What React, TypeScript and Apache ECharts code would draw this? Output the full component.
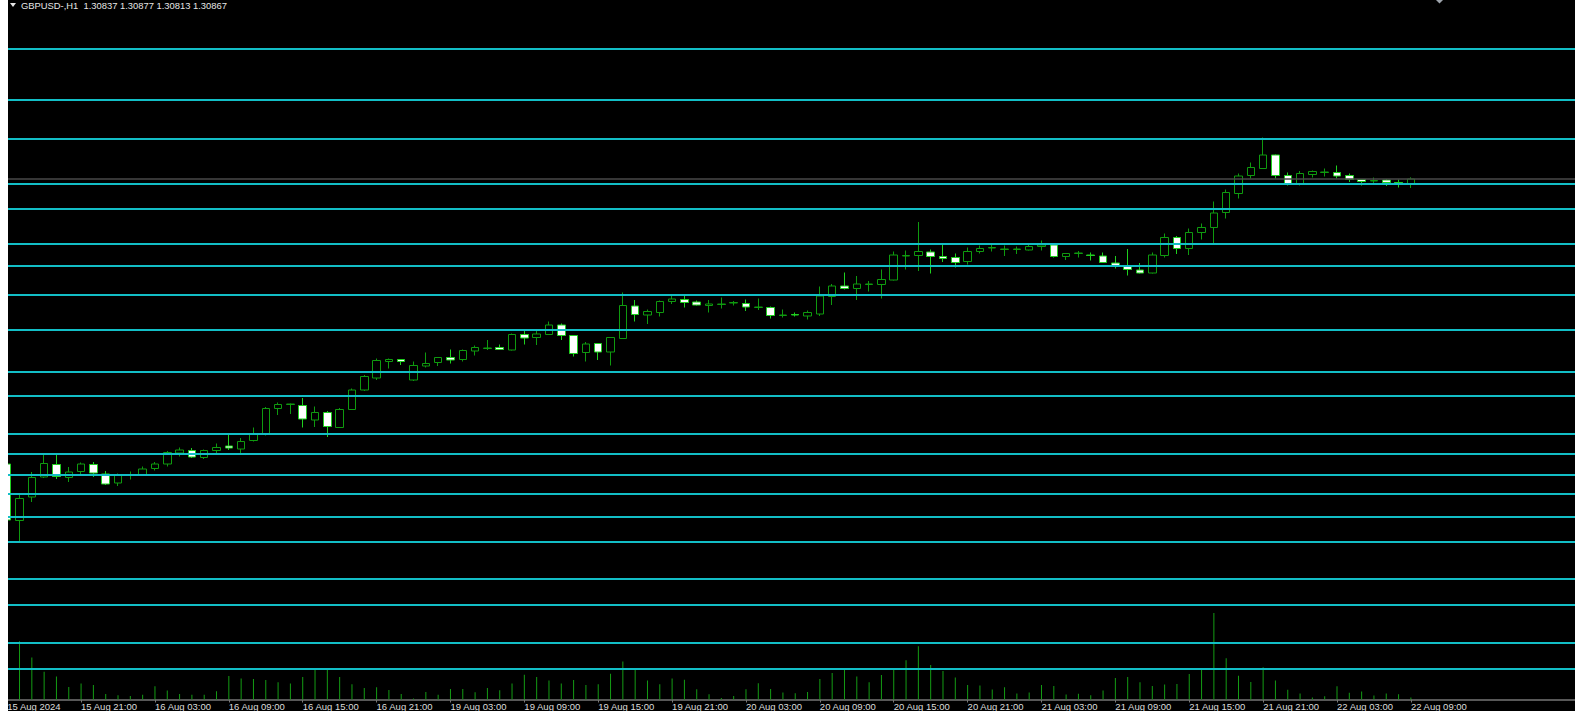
import React, { useEffect, useRef } from "react";
import * as echarts from "echarts";

// ---- data (GBPUSD H1, 15 Aug 15:00 .. 22 Aug 09:00) ----
const titleText = "GBPUSD-,H1  1.30837 1.30877 1.30813 1.30867";

const tickLabels = [
  "15 Aug 2024", "15 Aug 21:00", "16 Aug 03:00", "16 Aug 09:00", "16 Aug 15:00",
  "16 Aug 21:00", "19 Aug 03:00", "19 Aug 09:00", "19 Aug 15:00", "19 Aug 21:00",
  "20 Aug 03:00", "20 Aug 09:00", "20 Aug 15:00", "20 Aug 21:00", "21 Aug 03:00",
  "21 Aug 09:00", "21 Aug 15:00", "21 Aug 21:00", "22 Aug 03:00", "22 Aug 09:00",
];

const opens = [
  1.29157, 1.28818, 1.28959, 1.29079, 1.29154, 1.29076, 1.29112, 1.29154, 1.29097, 1.29043,
  1.29091, 1.29091, 1.29130, 1.29157, 1.29223, 1.29238, 1.29196, 1.29238, 1.29265, 1.29247,
  1.29298, 1.29337, 1.29490, 1.29514, 1.29508, 1.29421, 1.29466, 1.29376, 1.29484, 1.29601,
  1.29673, 1.29772, 1.29784, 1.29661, 1.29745, 1.29766, 1.29796, 1.29784, 1.29835, 1.29850,
  1.29856, 1.29841, 1.29934, 1.29916, 1.29934, 1.29991, 1.29928, 1.29826, 1.29880, 1.29829,
  1.29910, 1.30105, 1.30051, 1.30066, 1.30132, 1.30144, 1.30129, 1.30108, 1.30114, 1.30123,
  1.30120, 1.30096, 1.30096, 1.30048, 1.30054, 1.30045, 1.30057, 1.30162, 1.30225, 1.30210,
  1.30234, 1.30234, 1.30261, 1.30405, 1.30408, 1.30429, 1.30402, 1.30396, 1.30372, 1.30432,
  1.30453, 1.30444, 1.30444, 1.30441, 1.30462, 1.30471, 1.30402, 1.30420, 1.30411, 1.30405,
  1.30363, 1.30342, 1.30321, 1.30303, 1.30408, 1.30516, 1.30450, 1.30546, 1.30576, 1.30666,
  1.30780, 1.30888, 1.30930, 1.31011, 1.30888, 1.30840, 1.30894, 1.30906, 1.30906, 1.30888,
  1.30864, 1.30855, 1.30861, 1.30846, 1.30837,
];

const closes = [
  1.28821, 1.28950, 1.29076, 1.29160, 1.29082, 1.29109, 1.29157, 1.29103, 1.29037, 1.29091,
  1.29094, 1.29127, 1.29157, 1.29226, 1.29241, 1.29199, 1.29238, 1.29256, 1.29253, 1.29292,
  1.29337, 1.29490, 1.29514, 1.29517, 1.29427, 1.29466, 1.29382, 1.29484, 1.29601, 1.29682,
  1.29778, 1.29784, 1.29772, 1.29748, 1.29760, 1.29796, 1.29781, 1.29838, 1.29856, 1.29853,
  1.29844, 1.29934, 1.29913, 1.29937, 1.29991, 1.29928, 1.29820, 1.29877, 1.29829, 1.29916,
  1.30108, 1.30054, 1.30072, 1.30132, 1.30147, 1.30126, 1.30111, 1.30117, 1.30117, 1.30126,
  1.30099, 1.30099, 1.30048, 1.30051, 1.30051, 1.30066, 1.30165, 1.30225, 1.30210, 1.30237,
  1.30237, 1.30264, 1.30411, 1.30408, 1.30432, 1.30402, 1.30390, 1.30366, 1.30432, 1.30450,
  1.30456, 1.30447, 1.30447, 1.30462, 1.30471, 1.30402, 1.30420, 1.30423, 1.30408, 1.30366,
  1.30348, 1.30324, 1.30303, 1.30411, 1.30516, 1.30450, 1.30546, 1.30576, 1.30663, 1.30786,
  1.30885, 1.30936, 1.31011, 1.30888, 1.30840, 1.30900, 1.30912, 1.30909, 1.30885, 1.30864,
  1.30852, 1.30858, 1.30846, 1.30843, 1.30867,
];

const lows = [
  1.28815, 1.28683, 1.28929, 1.29073, 1.29067, 1.29049, 1.29091, 1.29079, 1.29031, 1.29025,
  1.29064, 1.29088, 1.29118, 1.29142, 1.29202, 1.29193, 1.29187, 1.29223, 1.29241, 1.29223,
  1.29292, 1.29328, 1.29451, 1.29457, 1.29376, 1.29379, 1.29319, 1.29373, 1.29481, 1.29595,
  1.29661, 1.29730, 1.29751, 1.29655, 1.29736, 1.29745, 1.29760, 1.29772, 1.29808, 1.29841,
  1.29841, 1.29838, 1.29874, 1.29871, 1.29931, 1.29901, 1.29802, 1.29772, 1.29781, 1.29748,
  1.29907, 1.30012, 1.29997, 1.30042, 1.30117, 1.30096, 1.30108, 1.30066, 1.30090, 1.30108,
  1.30075, 1.30081, 1.30030, 1.30036, 1.30042, 1.30024, 1.30045, 1.30111, 1.30204, 1.30141,
  1.30192, 1.30150, 1.30258, 1.30324, 1.30315, 1.30300, 1.30369, 1.30336, 1.30354, 1.30420,
  1.30432, 1.30405, 1.30417, 1.30438, 1.30438, 1.30396, 1.30381, 1.30396, 1.30378, 1.30363,
  1.30330, 1.30288, 1.30300, 1.30300, 1.30396, 1.30417, 1.30411, 1.30504, 1.30477, 1.30630,
  1.30750, 1.30870, 1.30927, 1.30870, 1.30828, 1.30828, 1.30876, 1.30882, 1.30870, 1.30849,
  1.30828, 1.30840, 1.30825, 1.30816, 1.30813,
];

const highs = [
  1.29163, 1.28971, 1.29109, 1.29223, 1.29223, 1.29139, 1.29166, 1.29169, 1.29115, 1.29100,
  1.29112, 1.29142, 1.29169, 1.29235, 1.29256, 1.29253, 1.29244, 1.29280, 1.29340, 1.29313,
  1.29376, 1.29499, 1.29526, 1.29520, 1.29553, 1.29502, 1.29475, 1.29493, 1.29610, 1.29691,
  1.29790, 1.29790, 1.29787, 1.29772, 1.29826, 1.29799, 1.29844, 1.29844, 1.29868, 1.29901,
  1.29874, 1.29940, 1.29967, 1.29958, 1.30012, 1.30000, 1.29931, 1.29889, 1.29883, 1.29919,
  1.30186, 1.30141, 1.30084, 1.30138, 1.30174, 1.30171, 1.30138, 1.30141, 1.30156, 1.30135,
  1.30144, 1.30150, 1.30102, 1.30084, 1.30066, 1.30078, 1.30222, 1.30237, 1.30306, 1.30285,
  1.30255, 1.30324, 1.30432, 1.30438, 1.30609, 1.30444, 1.30474, 1.30420, 1.30456, 1.30468,
  1.30474, 1.30468, 1.30462, 1.30474, 1.30498, 1.30474, 1.30423, 1.30435, 1.30426, 1.30426,
  1.30405, 1.30447, 1.30363, 1.30426, 1.30540, 1.30525, 1.30570, 1.30600, 1.30732, 1.30804,
  1.30900, 1.30966, 1.31116, 1.31014, 1.30906, 1.30915, 1.30918, 1.30930, 1.30948, 1.30900,
  1.30867, 1.30876, 1.30867, 1.30864, 1.30877,
];

const volumes = [
  2100, 2332, 1680, 1112, 924, 504, 640, 584, 220, 168,
  140, 192, 532, 356, 220, 192, 192, 328, 936, 844,
  816, 776, 692, 640, 896, 1180, 1236, 896, 612, 464,
  492, 384, 220, 44, 300, 192, 424, 424, 288, 464,
  368, 640, 992, 896, 760, 640, 776, 584, 612, 1032,
  1520, 1260, 760, 612, 844, 788, 408, 208, 60, 140,
  408, 652, 424, 276, 248, 300, 816, 1060, 1236, 924,
  692, 980, 1180, 1572, 2128, 1384, 1140, 884, 584, 560,
  396, 492, 236, 276, 584, 540, 200, 228, 172, 364,
  856, 896, 692, 540, 596, 624, 1020, 1252, 3460, 1648,
  952, 704, 1292, 760, 392, 240, 76, 132, 528, 268,
  324, 160, 240, 212, 76,
];

// horizontal price levels (cyan lines) and the current bid line
const levelLines = [
  1.31647, 1.31341, 1.31107, 1.30837, 1.30687, 1.30477, 1.30345, 1.30171, 1.29961, 1.29709,
  1.29565, 1.29337, 1.29217, 1.29091, 1.28977, 1.28839, 1.28689, 1.28467, 1.28311, 1.28083,
  1.27927,
];
const bidPrice = 1.30867;

// layout constants
const BAR_STEP = 12.313;
const EMPTY_SLOTS = 14; // MT4 chart shift (empty space on the right)
const CHART_W = 1567;
const CHART_H = 711;
const FONT = '"Liberation Sans", Arial, sans-serif';

export default function App() {
  const ref = useRef<HTMLDivElement>(null);

  useEffect(() => {
    if (!ref.current) return;
    const chart = echarts.init(ref.current, null, { renderer: "svg" });

    const nBars = opens.length;
    const nSlots = nBars + EMPTY_SLOTS;
    const categories = Array.from({ length: nSlots }, (_, i) => String(i));
    const candleData = opens.map((o, i) => [o, closes[i], lows[i], highs[i]]);

    const gridLeft = -0.8 - BAR_STEP / 2;
    const gridWidth = nSlots * BAR_STEP;
    const gridRight = CHART_W - (gridLeft + gridWidth);
    const gridBottom = 11.5;

    const showTick = (idx: number) => idx % 6 === 0 && idx / 6 < tickLabels.length;

    const baseX = {
      type: "category" as const,
      data: categories,
      boundaryGap: true,
      splitLine: { show: false },
    };

    chart.setOption({
      animation: false,
      backgroundColor: "#000000",
      grid: [
        {
          left: gridLeft,
          right: gridRight,
          top: 0,
          bottom: gridBottom,
          containLabel: false,
          outerBoundsMode: "none",
        },
        {
          left: gridLeft,
          right: gridRight,
          top: CHART_H - gridBottom - 100,
          bottom: gridBottom,
          containLabel: false,
          outerBoundsMode: "none",
        },
      ],
      xAxis: [
        {
          ...baseX,
          gridIndex: 0,
          axisLine: { show: true, lineStyle: { color: "#767676", width: 1.5 } },
          axisTick: {
            show: true,
            alignWithLabel: true,
            interval: (idx: number) => showTick(idx),
            length: 3,
            lineStyle: { color: "#767676", width: 1 },
          },
          axisLabel: {
            show: true,
            interval: (idx: number) => showTick(idx),
            align: "left",
            margin: 1.5,
            color: "#dcdcdc",
            fontSize: 9.5,
            lineHeight: 10,
            fontFamily: FONT,
            formatter: (_v: string, idx: number) => (showTick(idx) ? tickLabels[idx / 6] : ""),
          },
        },
        {
          ...baseX,
          gridIndex: 1,
          show: false,
        },
      ],
      yAxis: [
        {
          type: "value",
          gridIndex: 0,
          min: 1.27744,
          max: 1.31941,
          show: false,
          splitLine: { show: false },
        },
        {
          type: "value",
          gridIndex: 1,
          min: 0,
          max: 4000,
          show: false,
          splitLine: { show: false },
        },
      ],
      series: [
        {
          type: "bar",
          name: "Volume",
          xAxisIndex: 1,
          yAxisIndex: 1,
          data: volumes,
          barWidth: 1,
          z: 1,
          silent: true,
          itemStyle: { color: "#149c14" },
        },
        {
          type: "candlestick",
          name: "GBPUSD",
          xAxisIndex: 0,
          yAxisIndex: 0,
          data: candleData,
          barWidth: 8,
          z: 2,
          silent: true,
          itemStyle: {
            color: "#000000",
            color0: "#ffffff",
            borderColor: "#0f9a0f",
            borderColor0: "#1fd01f",
            borderWidth: 1,
          },
          markLine: {
            silent: true,
            precision: 5,
            symbol: ["none", "none"],
            label: { show: false },
            emphasis: { disabled: true },
            lineStyle: { color: "#12bec6", width: 2, type: "solid" },
            data: [
              { yAxis: bidPrice, lineStyle: { color: "#484848", width: 1.5, type: "solid" } },
              ...levelLines.map((v) => ({ yAxis: v })),
            ],
          },
        },
      ],
      graphic: [
        {
          type: "polygon",
          shape: { points: [[2, 3], [8, 3], [5, 7]] },
          style: { fill: "#e6e6e6" },
          silent: true,
        },
        {
          type: "text",
          x: 13,
          y: 5.5,
          silent: true,
          style: {
            text: titleText,
            fill: "#e6e6e6",
            fontSize: 9.4,
            fontFamily: FONT,
            verticalAlign: "middle",
            align: "left",
          },
        },
        {
          type: "polygon",
          shape: { points: [[1427, -1], [1436, -1], [1431.5, 3.5]] },
          style: { fill: "#9ea4ac" },
          silent: true,
        },
      ],
    });

    return () => chart.dispose();
  }, []);

  return (
    <div
      ref={ref}
      style={{
        position: "absolute",
        left: 8,
        top: 0,
        width: CHART_W,
        height: CHART_H,
        background: "#000",
      }}
    />
  );
}
